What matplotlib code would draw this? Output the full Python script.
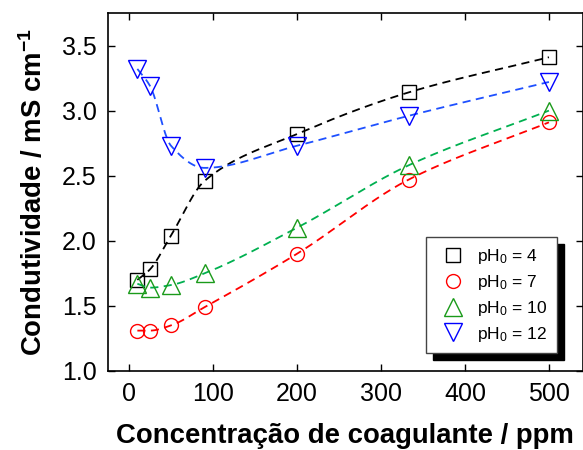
import numpy as np
import matplotlib
matplotlib.use("Agg")
import matplotlib.pyplot as plt

plt.rcParams['font.family'] = ['Liberation Sans', 'DejaVu Sans']
plt.rcParams['mathtext.fontset'] = 'custom'
plt.rcParams['mathtext.rm'] = 'Liberation Sans'
plt.rcParams['mathtext.it'] = 'Liberation Sans:italic'
plt.rcParams['mathtext.bf'] = 'Liberation Sans:bold'

# coagulant concentration (ppm)
conc = [10, 25, 50, 90, 200, 333, 500]

# conductivity (mS/cm) for each initial pH
ph4 = [1.70, 1.78, 2.04, 2.46, 2.82, 3.14, 3.41]
ph7 = [1.31, 1.31, 1.35, 1.49, 1.90, 2.47, 2.91]
ph10 = [1.67, 1.64, 1.66, 1.75, 2.10, 2.58, 3.00]
ph12 = [3.32, 3.19, 2.73, 2.56, 2.73, 2.96, 3.22]

labels = ['pH$_0$ = 4', 'pH$_0$ = 7', 'pH$_0$ = 10', 'pH$_0$ = 12']


def pchip(x, y, xs):
    """monotone cubic (Fritsch-Carlson) curve through (x, y)"""
    x = np.asarray(x, float)
    y = np.asarray(y, float)
    h = np.diff(x)
    delta = np.diff(y) / h
    n = len(x)
    d = np.zeros(n)
    for k in range(1, n - 1):
        if delta[k - 1] * delta[k] > 0:
            w1 = 2 * h[k] + h[k - 1]
            w2 = h[k] + 2 * h[k - 1]
            d[k] = (w1 + w2) / (w1 / delta[k - 1] + w2 / delta[k])
    d[0] = delta[0]
    d[-1] = delta[-1]
    idx = np.clip(np.searchsorted(x, xs) - 1, 0, n - 2)
    t = (xs - x[idx]) / h[idx]
    h00 = 2 * t ** 3 - 3 * t ** 2 + 1
    h10 = t ** 3 - 2 * t ** 2 + t
    h01 = -2 * t ** 3 + 3 * t ** 2
    h11 = t ** 3 - t ** 2
    return (h00 * y[idx] + h10 * h[idx] * d[idx]
            + h01 * y[idx + 1] + h11 * h[idx] * d[idx + 1])


fig = plt.figure(figsize=(5.83, 4.5), dpi=100)
ax = fig.add_axes([0.1852, 0.1756, 0.814, 0.7956])

series = [
    (ph4, 's', 'black', 'black', 10),
    (ph7, 'o', 'red', 'red', 10),
    (ph10, '^', '#1a9a1a', '#00b050', 12.5),
    (ph12, 'v', '#0000ff', '#1e50ff', 12.5),
]

xs = np.linspace(conc[0], conc[-1], 400)
for (vals, mk, mcol, lcol, ms), lab in zip(series, labels):
    ax.plot(xs, pchip(conc, vals, xs), color=lcol, lw=1.3, dashes=(4.5, 3))
    ax.plot(conc, vals, linestyle='none', marker=mk, markersize=ms,
            markerfacecolor='none', markeredgecolor=mcol, markeredgewidth=1.0,
            label=lab)

ax.set_xlim(-25, 540)
ax.set_ylim(1.0, 3.75)
ax.set_xticks([0, 100, 200, 300, 400, 500])
ax.set_yticks([1.0, 1.5, 2.0, 2.5, 3.0, 3.5])
ax.yaxis.set_major_formatter(matplotlib.ticker.FormatStrFormatter('%.1f'))
ax.tick_params(direction='in', length=5, width=1, labelsize=18,
               top=True, right=True, pad=8)
for sp in ax.spines.values():
    sp.set_linewidth(1.2)

ax.set_xlabel('Concentração de coagulante / ppm', fontsize=19.8,
              fontweight='bold', labelpad=12)
ax.set_ylabel('Condutividade / mS cm$^{\\mathbf{-1}}$', fontsize=19.8,
              fontweight='bold', labelpad=10)

leg = ax.legend(loc='lower right', bbox_to_anchor=(0.946, 0.05), fontsize=12.5,
                frameon=True, fancybox=False, edgecolor='#444444',
                shadow={'color': 'black', 'ox': 5, 'oy': -5, 'alpha': 1},
                handletextpad=0.4, borderpad=0.55, labelspacing=0.4,
                handlelength=2.0, borderaxespad=0)
leg.get_frame().set_linewidth(1.0)

fig.savefig('out.png', dpi=100)
